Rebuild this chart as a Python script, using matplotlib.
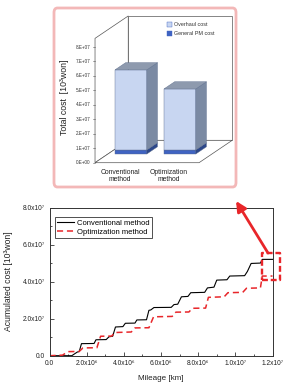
import matplotlib
matplotlib.use("Agg")
import matplotlib.pyplot as plt
import numpy as np
from matplotlib.patches import Polygon, Rectangle, FancyBboxPatch
from matplotlib.ticker import MultipleLocator, FixedLocator

plt.rcParams['font.family'] = ['Liberation Sans', 'DejaVu Sans']

# ---------------- data ----------------
mileage_conv = [0, 1.2, 1.5, 1.6, 1.72, 2.4, 2.5, 3.05, 3.2, 3.4, 3.55, 3.95, 4.08, 4.6, 4.7,
                5.22, 5.35, 5.45, 5.62, 6.55, 6.7, 6.9, 7.1, 7.45, 7.6, 8.35, 8.5, 8.85, 9.0,
                9.55, 9.7, 10.5, 10.65, 10.85, 11.35, 11.45, 12.0]          # x 1e6 km
cost_conv = [0, 0, 0.20, 0.22, 0.65, 0.66, 0.86, 0.87, 1.02, 1.05, 1.55, 1.57, 1.75, 1.76, 1.93,
             1.94, 2.45, 2.47, 2.60, 2.61, 2.76, 2.78, 3.18, 3.20, 3.40, 3.42, 3.66, 3.70, 4.08,
             4.10, 4.30, 4.32, 4.55, 4.98, 5.00, 5.20, 5.20]                 # x 1e7 won
mileage_opt = [0, 0.7, 1.0, 1.6, 1.8, 2.55, 2.75, 3.35, 3.5, 4.4, 4.6, 5.35, 5.6, 6.6, 6.8,
               7.5, 7.7, 8.4, 8.55, 9.4, 9.6, 10.4, 10.6, 11.35, 11.45, 12.0]
cost_opt = [0, 0.03, 0.22, 0.23, 0.42, 0.43, 1.05, 1.06, 1.25, 1.28, 1.50, 1.51, 2.10, 2.12, 2.35,
            2.36, 2.56, 2.57, 3.15, 3.18, 3.40, 3.42, 3.64, 3.66, 4.30, 4.30]
series_names = ["Conventional method", "Optimization method"]
x_ticks = [0, 2e6, 4e6, 6e6, 8e6, 1e7, 1.2e7]
x_tick_labels = ["0.0", "2.0x10\u2076", "4.0x10\u2076", "6.0x10\u2076", "8.0x10\u2076",
                 "1.0x10\u2077", "1.2x10\u2077"]
y_ticks = [0, 2e7, 4e7, 6e7, 8e7]
y_tick_labels = ["0.0", "2.0x10\u2077", "4.0x10\u2077", "6.0x10\u2077", "8.0x10\u2077"]

# inset bar chart data (x 1e7 won)
bar_categories = ["Conventional\nmethod", "Optimization\nmethod"]
pm_cost = [0.28, 0.28]
overhaul_cost = [5.54, 4.22]
bar_series = ["Overhaul cost", "General PM cost"]
inset_ticks = [0, 1, 2, 3, 4, 5, 6, 7, 8]
inset_tick_labels = ["0.E+00", "1.E+07", "2.E+07", "3.E+07", "4.E+07",
                     "5.E+07", "6.E+07", "7.E+07", "8.E+07"]

RED = '#e8262a'
W, H = 287, 386
fig = plt.figure(figsize=(W / 100, H / 100), dpi=100)

# ---------------- main line chart ----------------
ax = fig.add_axes([49.5 / W, 1 - 355.7 / H, 223 / W, 148.2 / H])
ax.plot(np.array(mileage_conv) * 1e6, np.array(cost_conv) * 1e7, color='black', lw=0.8,
        label=series_names[0])
ax.plot(np.array(mileage_opt) * 1e6, np.array(cost_opt) * 1e7, color=RED, lw=1.1,
        ls=(0, (4, 2.5)), label=series_names[1])
ax.set_xlim(0, 1.2e7)
ax.set_ylim(0, 8e7)
ax.xaxis.set_major_locator(FixedLocator(x_ticks))
ax.set_xticklabels(x_tick_labels)
ax.yaxis.set_major_locator(FixedLocator(y_ticks))
ax.set_yticklabels(y_tick_labels)
ax.xaxis.set_minor_locator(MultipleLocator(1e6))
ax.yaxis.set_minor_locator(MultipleLocator(1e7))
ax.tick_params(which='both', direction='in', width=0.6, colors='#333333', labelcolor='#222222')
ax.tick_params(which='major', length=3, labelsize=4.8, pad=3)
ax.tick_params(which='minor', length=1.6)
for s in ax.spines.values():
    s.set_linewidth(0.7)
    s.set_color('#333333')
ax.set_xlabel("Mileage [km]", fontsize=5.8, color='#222222', labelpad=6)
ax.set_ylabel("Acumulated cost [10\u00b3won]", fontsize=6.2, color='#222222', labelpad=7)
leg = ax.legend(loc='upper left', bbox_to_anchor=(0.025, 0.935), borderaxespad=0,
                fontsize=5.5, frameon=True, fancybox=False, handlelength=2.2,
                handletextpad=0.4, borderpad=0.3, labelspacing=0.2)
leg.get_frame().set_edgecolor('black')
leg.get_frame().set_linewidth(0.6)

# highlight box and arrow
ax.add_patch(FancyBboxPatch((11.41e6, 4.09e7), 0.99e6, 1.44e7, boxstyle='square,pad=0',
                            fill=False, ec=RED, lw=1.7, ls=(0, (2.5, 1.2)), clip_on=False,
                            zorder=5, joinstyle='round'))
ax.annotate('', xy=(10.04e6, 8.35e7), xytext=(11.76e6, 5.54e7),
            arrowprops=dict(arrowstyle='-|>,head_length=0.6,head_width=0.3', color=RED,
                            lw=2, shrinkA=0, shrinkB=0, mutation_scale=10),
            annotation_clip=False, zorder=6)

# ---------------- inset (pink box) ----------------
bx0, by0, bx1, by1 = 54, 8, 236, 187
fig.patches.append(FancyBboxPatch((bx0 / W, 1 - by1 / H), (bx1 - bx0) / W, (by1 - by0) / H,
                                  boxstyle='round,pad=0,rounding_size=0.012',
                                  transform=fig.transFigure, fc='none', ec='#f3b8b8', lw=2.0,
                                  zorder=0))
ia = fig.add_axes([bx0 / W, 1 - by1 / H, (bx1 - bx0) / W, (by1 - by0) / H], zorder=3)
ia.set_xlim(-2.84, 9.76)
ia.set_ylim(-1.68, 10.7)
ia.axis('off')

dvx, dvy = 2.3, 1.55          # depth vector of the 3D box
top = 8.6
wall_kw = dict(fc='white', ec='#555555', lw=0.5)
ia.add_patch(Polygon([(dvx, dvy), (9.5, dvy), (9.5, top + dvy), (dvx, top + dvy)], **wall_kw))
ia.add_patch(Polygon([(0, 0), (dvx, dvy), (dvx, top + dvy), (0, top)], **wall_kw))
ia.add_patch(Polygon([(0, 0), (9.5 - dvx, 0), (9.5, dvy), (dvx, dvy)], **wall_kw))

# y ticks on front-left edge
for v, lab in zip(inset_ticks, inset_tick_labels):
    ia.plot([-0.12, 0], [v, v], color='#555555', lw=0.4)
    ia.text(-0.3, v, lab, fontsize=3.3, ha='right', va='center', color='#333333')
ia.text(-2.1, 4.5, "Total cost  [10\u00b3won]", rotation=90, fontsize=6.3, ha='center',
        va='center', color='#222222')

centers = np.array([1.59, 4.98])
bw = 2.2
f_off, f_dep = 0.39, 0.32
ox, oy = f_off * dvx, f_off * dvy
ddx, ddy = f_dep * dvx, f_dep * dvy
c_front, c_side, c_top = '#c8d6f1', '#7b8aa3', '#8e9aae'
c_pm, c_pm_side = '#3f63c2', '#2c478a'
edge = '#5b6c8c'

pm = np.array(pm_cost)
oh = np.array(overhaul_cost)
ia.bar(centers + ox, pm, width=bw, bottom=oy, color=c_pm, ec=edge, lw=0.3, zorder=3)
ia.bar(centers + ox, oh, width=bw, bottom=oy + pm, color=c_front, ec=edge, lw=0.3, zorder=3)
for c, p, o in zip(centers + ox, pm, oh):
    xr = c + bw / 2
    xl = c - bw / 2
    ia.add_patch(Polygon([(xr, oy), (xr + ddx, oy + ddy), (xr + ddx, oy + p + ddy), (xr, oy + p)],
                         fc=c_pm_side, ec=edge, lw=0.3, zorder=3))
    ia.add_patch(Polygon([(xr, oy + p), (xr + ddx, oy + p + ddy), (xr + ddx, oy + p + o + ddy),
                          (xr, oy + p + o)], fc=c_side, ec=edge, lw=0.3, zorder=3))
    ht = oy + p + o
    ia.add_patch(Polygon([(xl, ht), (xr, ht), (xr + ddx, ht + ddy), (xl + ddx, ht + ddy)],
                         fc=c_top, ec=edge, lw=0.3, zorder=3))

for c, lab in zip(centers, bar_categories):
    ia.text(c + 0.15, -0.45, lab, fontsize=4.9, ha='center', va='top', linespacing=1.0,
            color='#222222')

# legend in inset
leg_cols = [c_front, c_pm]
for i, (lab, col) in enumerate(zip(bar_series, leg_cols)):
    yy = 9.55 - i * 0.6
    ia.add_patch(Rectangle((5.0, yy - 0.17), 0.32, 0.34, fc=col, ec='#3f63c2', lw=0.3))
    ia.text(5.45, yy, lab, fontsize=3.9, ha='left', va='center', color='#333333')

fig.savefig("out.png", dpi=100)
